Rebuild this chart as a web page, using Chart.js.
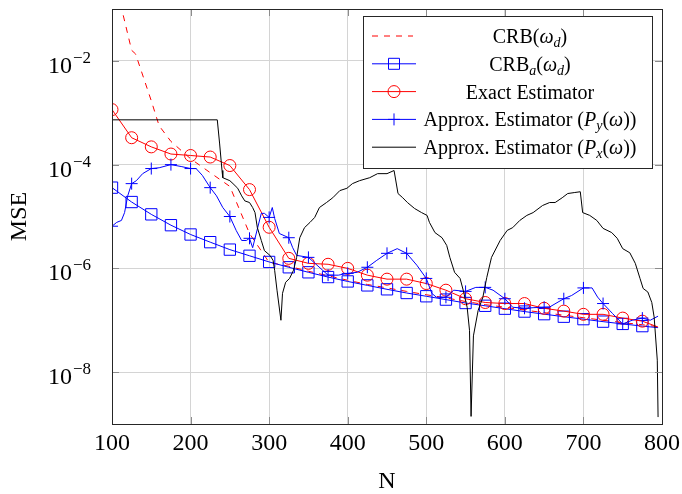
<!DOCTYPE html>
<html>
<head>
<meta charset="utf-8">
<script src="https://cdn.jsdelivr.net/npm/chart.js@4.4.0/dist/chart.umd.min.js"></script>
<style>
  html, body { margin: 0; padding: 0; background: #fff; }
  #wrap { width: 682px; height: 494px; }
</style>
</head>
<body>
<div id="wrap"><canvas id="mseChart" width="682" height="494"></canvas></div>
<script>
// --- DATA ---
const xTickValues = [100, 200, 300, 400, 500, 600, 700, 800];
const yTickValues = [1e-8, 1e-6, 1e-4, 1e-2];
const yTickExponents = ['\u22128', '\u22126', '\u22124', '\u22122'];

// N where markers sit (every 25) plus the last sample
const markerN = [100, 125, 150, 175, 200, 225, 250, 275, 300, 325, 350, 375, 400, 425, 450,
                 475, 500, 525, 550, 575, 600, 625, 650, 675, 700, 725, 750, 775, 795];

const crbaValues = [3.6e-5, 1.9e-5, 1.1e-5, 6.8e-6, 4.5e-6, 3.2e-6, 2.3e-6, 1.75e-6, 1.33e-6, 1.05e-6,
                    8.4e-7, 6.8e-7, 5.6e-7, 4.7e-7, 3.95e-7, 3.35e-7, 2.9e-7, 2.5e-7, 2.15e-7, 1.9e-7,
                    1.67e-7, 1.47e-7, 1.31e-7, 1.17e-7, 1.05e-7, 9.4e-8, 8.5e-8, 7.7e-8, 7.2e-8];

const exactValues = [1.15e-3, 3.3e-4, 2.2e-4, 1.6e-4, 1.5e-4, 1.4e-4, 9.6e-5, 3.3e-5, 6.2e-6, 1.56e-6,
                     1.25e-6, 1.2e-6, 1.0e-6, 7.4e-7, 6.2e-7, 6.2e-7, 5.1e-7, 3.8e-7, 2.6e-7, 2.2e-7,
                     2.1e-7, 2.1e-7, 1.7e-7, 1.5e-7, 1.3e-7, 1.3e-7, 1.1e-7, 9.6e-8, 7.4e-8];

const crbN = [100, 125, 130, 150, 160, 175, 200, 225, 250, 275, 300,
              325, 350, 375, 400, 425, 450, 475, 500, 525, 550,
              575, 600, 625, 650, 675, 700, 725, 750, 775, 795];
const crbValues = [0.6, 0.016, 0.0136, 1.7e-3, 5.6e-4, 2.8e-4, 1.3e-4, 7e-5, 3.8e-5, 4.7e-6, 1.3e-6,
                   1.1e-6, 8.8e-7, 7.2e-7, 5.9e-7, 4.9e-7, 4.2e-7, 3.6e-7, 3.1e-7, 2.7e-7, 2.3e-7,
                   2.0e-7, 1.78e-7, 1.57e-7, 1.4e-7, 1.25e-7, 1.12e-7, 1.0e-7, 9.0e-8, 8.2e-8, 7.5e-8];

const pyN = [100, 106, 112, 116, 120, 125, 131, 139, 150, 160,
             175, 188, 200, 207, 215, 225, 233, 241, 250, 258,
             265, 271, 275, 279, 290, 294, 300, 304, 307, 313,
             325, 330, 335, 343, 350, 361, 375, 388, 400, 412,
             425, 437, 450, 463, 475, 488, 500, 507, 513, 525,
             535, 550, 563, 575, 585, 600, 610, 625, 637, 650,
             657, 675, 685, 700, 711, 718, 725, 737, 750, 762,
             775, 785, 795];
const pyValues = [6.5e-6, 7.7e-6, 8.4e-6, 1.19e-5, 2.5e-5, 4.3e-5, 4.9e-5, 6.7e-5, 8.4e-5, 8.7e-5,
                  1.0e-4, 9.2e-5, 8.4e-5, 8.4e-5, 6.2e-5, 3.6e-5, 2.5e-5, 1.49e-5, 1.0e-5, 5.4e-6,
                  3.45e-6, 3.45e-6, 3.8e-6, 2.5e-6, 1.15e-5, 1.15e-5, 9.6e-6, 1.49e-5, 9.2e-6, 4.7e-6,
                  3.9e-6, 2.5e-6, 1.78e-6, 1.7e-6, 1.63e-6, 1.15e-6, 7.4e-7, 7.4e-7, 8.0e-7, 8.4e-7,
                  1.05e-6, 1.43e-6, 1.95e-6, 2.4e-6, 1.95e-6, 1.15e-6, 6.4e-7, 3.3e-7, 2.77e-7, 2.77e-7,
                  3.8e-7, 3.6e-7, 4.3e-7, 4.3e-7, 3.8e-7, 2.6e-7, 1.78e-7, 1.7e-7, 1.75e-7, 1.78e-7,
                  1.8e-7, 2.6e-7, 3.0e-7, 4.2e-7, 4.2e-7, 2.8e-7, 2.1e-7, 1.35e-7, 8.5e-8, 1.0e-7,
                  1.1e-7, 1.0e-7, 1.2e-7];

const pxN = [100, 234, 237, 240, 241, 250, 254, 260, 265, 269,
             275, 279, 282, 285, 290, 294, 301, 305, 307, 310,
             315, 317, 321, 326, 331, 335, 339, 345, 352, 358,
             364, 373, 381, 390, 399, 406, 415, 428, 438, 450,
             459, 464, 470, 476, 485, 494, 501, 504, 511, 520,
             526, 530, 536, 543, 547, 552, 555, 557, 560, 566,
             572, 577, 583, 594, 603, 610, 619, 628, 636, 648,
             657, 664, 673, 680, 689, 696, 699, 708, 717, 725,
             736, 743, 750, 759, 766, 772, 776, 782, 787, 790,
             794, 795];
const pxValues = [7.3e-4, 7.3e-4, 2.5e-4, 7.7e-5, 5.6e-5, 4.9e-5, 4.3e-5, 3.5e-5, 2.5e-5, 2.0e-5,
                  1.86e-5, 1.49e-5, 1.19e-5, 6.1e-6, 3.45e-6, 2.2e-6, 1.78e-6, 1.43e-6, 9.2e-7, 3.8e-7,
                  1.0e-7, 3.3e-7, 5.4e-7, 6.4e-7, 9.2e-7, 1.63e-6, 3.9e-6, 6.1e-6, 7.7e-6, 9.6e-6,
                  1.49e-5, 1.86e-5, 2.3e-5, 3.16e-5, 3.5e-5, 4.3e-5, 4.9e-5, 5.6e-5, 6.7e-5, 6.7e-5,
                  7.7e-5, 2.77e-5, 2.3e-5, 1.86e-5, 1.43e-5, 1.19e-5, 1.05e-5, 7.7e-6, 4.9e-6, 3.9e-6,
                  2.77e-6, 1.63e-6, 8.4e-7, 6.4e-7, 3.8e-7, 1.78e-7, 6.4e-8, 1.4e-9, 5e-8, 1.55e-7,
                  2.77e-7, 6.7e-7, 1.63e-6, 3.45e-6, 5.4e-6, 6.1e-6, 8.4e-6, 1.05e-5, 1.19e-5, 1.63e-5,
                  1.86e-5, 1.86e-5, 2.3e-5, 2.77e-5, 2.9e-5, 3.0e-5, 1.19e-5, 1.05e-5, 8.4e-6, 5.9e-6,
                  4.9e-6, 3.8e-6, 2.4e-6, 2.0e-6, 1.25e-6, 6.4e-7, 4.1e-7, 3.5e-7, 2.2e-7, 1.15e-7,
                  1.7e-8, 1.36e-9];

// --- STYLE ---
const SERIF = '"Liberation Serif", "DejaVu Serif", serif';
const RED = '#ff0000';
const BLUE = '#0000ff';

function toPoints(ns, vs) {
  return ns.map((n, i) => ({ x: n, y: vs[i] }));
}

// markers only every 25 samples of N
function markerRadius(r) {
  return ctx => (ctx.raw && ctx.raw.x % 25 === 0 ? r : 0);
}

// --- LEGEND (drawn inside the plot, pgfplots style) ---
const legendRows = [
  { parts: [['CRB(', 'r'], ['\u03c9', 'i'], ['d', 's'], [')', 'r']] },
  { parts: [['CRB', 'r'], ['a', 's'], ['(', 'r'], ['\u03c9', 'i'], ['d', 's'], [')', 'r']] },
  { parts: [['Exact Estimator', 'r']] },
  { parts: [['Approx. Estimator (', 'r'], ['P', 'i'], ['y', 's'], ['(', 'r'], ['\u03c9', 'i'], ['))', 'r']] },
  { parts: [['Approx. Estimator (', 'r'], ['P', 'i'], ['x', 's'], ['(', 'r'], ['\u03c9', 'i'], ['))', 'r']] }
];

function partFont(kind) {
  if (kind === 'i') return 'italic 20px ' + SERIF;
  if (kind === 's') return 'italic 14px ' + SERIF;
  return '20px ' + SERIF;
}

function drawRich(ctx, parts, cx, baseline) {
  let total = 0;
  const widths = parts.map(p => {
    ctx.font = partFont(p[1]);
    const w = ctx.measureText(p[0]).width;
    total += w;
    return w;
  });
  let x = cx - total / 2;
  ctx.textAlign = 'left';
  ctx.textBaseline = 'alphabetic';
  parts.forEach((p, i) => {
    ctx.font = partFont(p[1]);
    ctx.fillText(p[0], x, p[1] === 's' ? baseline + 4 : baseline);
    x += widths[i];
  });
}

function drawMarker(ctx, style, x, y, color) {
  ctx.strokeStyle = color;
  ctx.lineWidth = 1;
  ctx.setLineDash([]);
  ctx.beginPath();
  if (style === 'rect') {
    ctx.rect(x - 5.5, y - 5.5, 11, 11);
  } else if (style === 'circle') {
    ctx.arc(x, y, 6, 0, Math.PI * 2);
  } else if (style === 'cross') {
    ctx.moveTo(x - 6, y); ctx.lineTo(x + 6, y);
    ctx.moveTo(x, y - 6); ctx.lineTo(x, y + 6);
  }
  ctx.stroke();
}

const decorations = {
  id: 'decorations',
  afterDraw(chart) {
    const { ctx, chartArea: a, scales } = chart;
    ctx.save();

    // small tick marks on all four sides
    ctx.strokeStyle = '#8c8c8c';
    ctx.lineWidth = 1;
    xTickValues.forEach(v => {
      const x = Math.round(scales.x.getPixelForValue(v)) + 0.5;
      ctx.beginPath();
      ctx.moveTo(x, a.top); ctx.lineTo(x, a.top + 7);
      ctx.moveTo(x, a.bottom); ctx.lineTo(x, a.bottom - 7);
      ctx.stroke();
    });
    yTickValues.forEach(v => {
      const y = Math.round(scales.y.getPixelForValue(v)) + 0.5;
      ctx.beginPath();
      ctx.moveTo(a.left, y); ctx.lineTo(a.left + 7, y);
      ctx.moveTo(a.right, y); ctx.lineTo(a.right - 7, y);
      ctx.stroke();
    });

    // frame
    ctx.strokeStyle = '#262626';
    ctx.strokeRect(Math.round(a.left) + 0.5, Math.round(a.top) + 0.5,
                   Math.round(a.right - a.left), Math.round(a.bottom - a.top));

    // y tick labels 10^-k
    ctx.fillStyle = '#000';
    ctx.textAlign = 'left';
    ctx.textBaseline = 'alphabetic';
    yTickValues.forEach((v, i) => {
      const y = scales.y.getPixelForValue(v);
      ctx.font = '24px ' + SERIF;
      const base = ctx.measureText('10').width;
      ctx.fillText('10', 48, y + 12);
      ctx.font = '17px ' + SERIF;
      ctx.fillText(yTickExponents[i], 48 + base + 1, y + 2);
    });

    // legend box
    const box = { left: 363.5, top: 16.5, right: 652.5, bottom: 168.5 };
    ctx.fillStyle = '#fff';
    ctx.fillRect(box.left, box.top, box.right - box.left, box.bottom - box.top);
    ctx.strokeStyle = '#262626';
    ctx.strokeRect(box.left, box.top, box.right - box.left, box.bottom - box.top);

    chart.data.datasets.forEach((ds, i) => {
      const cy = 36 + i * 27.8;
      ctx.strokeStyle = ds.borderColor;
      ctx.lineWidth = 1;
      ctx.setLineDash(ds.borderDash || []);
      ctx.beginPath();
      ctx.moveTo(372, cy);
      ctx.lineTo(ds.borderDash ? 413 : 416, cy);
      ctx.stroke();
      if (ds.legendMarker) drawMarker(ctx, ds.legendMarker, 394, cy, ds.borderColor);
      ctx.setLineDash([]);
      ctx.fillStyle = '#000';
      drawRich(ctx, legendRows[i].parts, 530, cy + 7);
    });

    ctx.restore();
  }
};

// --- CHART ---
const chartCtx = document.getElementById('mseChart').getContext('2d');
new Chart(chartCtx, {
  type: 'line',
  data: {
    datasets: [
      {
        label: 'CRB',
        data: toPoints(crbN, crbValues),
        borderColor: RED,
        borderWidth: 1,
        borderDash: [6, 6],
        pointRadius: 0,
        order: 4
      },
      {
        label: 'CRB_a',
        data: toPoints(markerN, crbaValues),
        borderColor: BLUE,
        borderWidth: 1,
        pointStyle: 'rect',
        pointRadius: markerRadius(8),
        pointBorderColor: BLUE,
        pointBackgroundColor: 'rgba(0,0,0,0)',
        pointBorderWidth: 1,
        legendMarker: 'rect',
        order: 3
      },
      {
        label: 'Exact Estimator',
        data: toPoints(markerN, exactValues),
        borderColor: RED,
        borderWidth: 1,
        pointStyle: 'circle',
        pointRadius: markerRadius(6),
        pointBorderColor: RED,
        pointBackgroundColor: 'rgba(0,0,0,0)',
        pointBorderWidth: 1,
        legendMarker: 'circle',
        order: 2
      },
      {
        label: 'Approx. Estimator (Py)',
        data: toPoints(pyN, pyValues),
        borderColor: BLUE,
        borderWidth: 1,
        pointStyle: 'cross',
        pointRadius: markerRadius(6),
        pointBorderColor: BLUE,
        pointBorderWidth: 1,
        legendMarker: 'cross',
        order: 1
      },
      {
        label: 'Approx. Estimator (Px)',
        data: toPoints(pxN, pxValues),
        borderColor: '#000000',
        borderWidth: 1,
        pointRadius: 0,
        order: 0
      }
    ]
  },
  options: {
    responsive: false,
    animation: false,
    events: [],
    devicePixelRatio: 1,
    layout: { padding: { left: 0, right: 20, top: 8, bottom: 0 } },
    plugins: { legend: { display: false }, tooltip: { enabled: false } },
    elements: { line: { tension: 0 } },
    scales: {
      x: {
        type: 'linear',
        min: 100,
        max: 800,
        afterBuildTicks: s => { s.ticks = xTickValues.map(v => ({ value: v })); },
        afterFit: s => { s.height = 70; s.paddingLeft = 0; s.paddingRight = 0; },
        grid: { color: '#d4d4d4', lineWidth: 1, drawTicks: false },
        border: { display: false },
        ticks: {
          color: '#000',
          padding: 5,
          maxRotation: 0,
          autoSkip: false,
          font: { family: SERIF, size: 24 }
        },
        title: {
          display: true,
          text: 'N',
          color: '#000',
          font: { family: SERIF, size: 24, lineHeight: 1 },
          padding: { top: 0, bottom: 0 }
        }
      },
      y: {
        type: 'logarithmic',
        min: 1e-9,
        max: 1e-1,
        afterBuildTicks: s => { s.ticks = yTickValues.map(v => ({ value: v })); },
        afterFit: s => { s.width = 112; s.paddingTop = 0; s.paddingBottom = 0; },
        grid: { color: '#d4d4d4', lineWidth: 1, drawTicks: false },
        border: { display: false },
        ticks: { callback: () => '' },
        title: {
          display: true,
          text: 'MSE',
          color: '#000',
          font: { family: SERIF, size: 24, lineHeight: 1 },
          padding: { top: 8, bottom: 0 }
        }
      }
    }
  },
  plugins: [decorations]
});
</script>
</body>
</html>
